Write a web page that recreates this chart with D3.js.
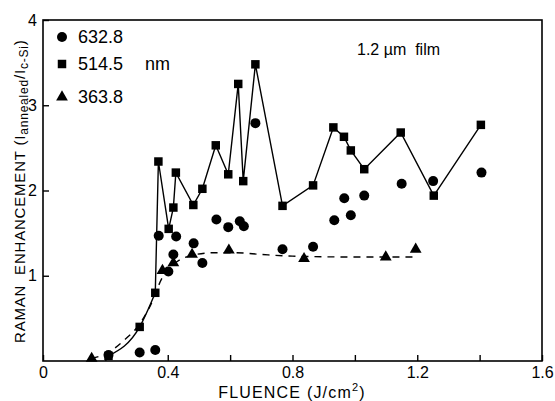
<!DOCTYPE html>
<html lang="en">
  <head>
    <meta charset="UTF-8" />
    <title>Raman enhancement vs fluence</title>
    <style>
      body { margin: 0; background: #fff; }
      svg { display: block; font-family: "Liberation Sans", Arial, sans-serif; }
      svg text { white-space: pre; }
      .axis text { font-size: 16px; fill: #000; }
      .axis line { stroke: #000; stroke-width: 1.4; }
      .axis path { display: none; }
    </style>
  </head>
  <body>
    <svg width="555" height="401"></svg>

    <script src="https://d3js.org/d3.v7.min.js"></script>
    <script>
      // 632.8 nm (circles)
      const fluence632 = [0.21, 0.31, 0.36, 0.371, 0.402, 0.418, 0.427, 0.483, 0.511, 0.556, 0.594, 0.631, 0.644, 0.681, 0.768, 0.866, 0.934, 0.966, 0.987, 1.03, 1.15, 1.251, 1.406];
      const enh632 = [0.07, 0.1, 0.13, 1.47, 1.05, 1.25, 1.46, 1.38, 1.15, 1.66, 1.57, 1.64, 1.58, 2.79, 1.31, 1.34, 1.65, 1.91, 1.71, 1.94, 2.08, 2.11, 2.21];

      // 514.5 nm (squares, solid line)
      const fluence514 = [0.21, 0.31, 0.36, 0.37, 0.403, 0.418, 0.426, 0.482, 0.511, 0.554, 0.594, 0.626, 0.642, 0.681, 0.768, 0.866, 0.931, 0.965, 0.987, 1.03, 1.147, 1.253, 1.404];
      const enh514 = [0.06, 0.4, 0.8, 2.34, 1.55, 1.8, 2.21, 1.83, 2.02, 2.53, 2.19, 3.25, 2.11, 3.48, 1.82, 2.06, 2.74, 2.63, 2.47, 2.25, 2.68, 1.94, 2.77];

      // 363.8 nm (triangles)
      const fluence364 = [0.156, 0.383, 0.418, 0.478, 0.596, 0.837, 1.099, 1.195];
      const enh364 = [0.03, 1.06, 1.15, 1.25, 1.3, 1.2, 1.22, 1.31];

      // dashed guide curve through the 363.8 nm points
      const dashFluence = [0.156, 0.21, 0.256, 0.311, 0.343, 0.383, 0.418, 0.478, 0.55, 0.62, 0.7, 0.8, 1.0, 1.19];
      const dashEnh = [0.03, 0.1, 0.23, 0.44, 0.64, 0.98, 1.13, 1.24, 1.27, 1.27, 1.25, 1.23, 1.22, 1.22];

      const xTicks = [0, 0.2, 0.4, 0.6, 0.8, 1.0, 1.2, 1.4, 1.6];
      const xLabels = [0, 0.4, 0.8, 1.2, 1.6];
      const yTicks = [1, 2, 3, 4];

      const svg = d3.select("svg");

      const x = d3.scaleLinear().domain([0, 1.6]).range([43, 542]);
      const y = d3.scaleLinear().domain([0, 4]).range([361, 20]);

      // frame
      svg.append("rect")
        .attr("x", x(0)).attr("y", y(4))
        .attr("width", x(1.6) - x(0)).attr("height", y(0) - y(4))
        .attr("fill", "none").attr("stroke", "#000").attr("stroke-width", 1.6);

      // x axis: inward ticks every 0.2, labels every 0.4
      svg.append("g").attr("class", "axis")
        .attr("transform", `translate(0,${y(0)})`)
        .call(d3.axisBottom(x).tickValues(xTicks).tickSize(-6).tickSizeOuter(0)
          .tickPadding(6)
          .tickFormat((d) => (xLabels.some((v) => Math.abs(v - d) < 1e-9) ? d3.format(".1~f")(d) : "")));

      // y axis
      svg.append("g").attr("class", "axis")
        .attr("transform", `translate(${x(0)},0)`)
        .call(d3.axisLeft(y).tickValues(yTicks).tickSize(-6).tickSizeOuter(0).tickPadding(6)
          .tickFormat(d3.format("d")));

      // axis titles
      const xt = svg.append("text")
        .attr("x", 292).attr("y", 398)
        .attr("text-anchor", "middle")
        .attr("font-size", 16).attr("letter-spacing", 1.2)
        .text("FLUENCE (J/cm");
      xt.append("tspan").attr("font-size", 11).attr("dy", -7).text("2");
      xt.append("tspan").attr("dy", 7).text(")");

      const yt = svg.append("text")
        .attr("transform", "translate(25,343) rotate(-90)")
        .attr("font-size", 15).attr("letter-spacing", 0.8)
        .text("RAMAN  ENHANCEMENT (I");
      yt.append("tspan").attr("font-size", 12).attr("dy", 3).text("annealed");
      yt.append("tspan").attr("dy", -3).text("/I");
      yt.append("tspan").attr("font-size", 12).attr("dy", 3).text("c-Si");
      yt.append("tspan").attr("dy", -3).text(")");

      // lines
      const pts514 = fluence514.map((f, i) => [f, enh514[i]]);
      const line = d3.line().x((d) => x(d[0])).y((d) => y(d[1]));

      svg.append("path")
        .attr("d", line.curve(d3.curveMonotoneX)(pts514.slice(0, 3)))
        .attr("fill", "none").attr("stroke", "#000").attr("stroke-width", 1.4);
      svg.append("path")
        .attr("d", line.curve(d3.curveLinear)(pts514.slice(2)))
        .attr("fill", "none").attr("stroke", "#000").attr("stroke-width", 1.4);

      svg.append("path")
        .attr("d", line.curve(d3.curveMonotoneX)(dashFluence.map((f, i) => [f, dashEnh[i]])))
        .attr("fill", "none").attr("stroke", "#000").attr("stroke-width", 1.4)
        .attr("stroke-dasharray", "7,6");

      // markers
      const sq = d3.symbol().type(d3.symbolSquare).size(72);
      const tri = d3.symbol().type(d3.symbolTriangle).size(60);

      svg.append("g").selectAll("circle")
        .data(fluence632.map((f, i) => [f, enh632[i]]))
        .join("circle")
        .attr("cx", (d) => x(d[0])).attr("cy", (d) => y(d[1]))
        .attr("r", 5);

      svg.append("g").selectAll("path")
        .data(pts514)
        .join("path")
        .attr("d", sq)
        .attr("transform", (d) => `translate(${x(d[0])},${y(d[1])})`);

      svg.append("g").selectAll("path")
        .data(fluence364.map((f, i) => [f, enh364[i]]))
        .join("path")
        .attr("d", tri)
        .attr("transform", (d) => `translate(${x(d[0])},${y(d[1])})`);

      // legend
      const legend = svg.append("g").attr("font-size", 18);
      legend.append("circle").attr("cx", 62).attr("cy", 37).attr("r", 5);
      legend.append("text").attr("x", 78).attr("y", 43).text("632.8");
      legend.append("path").attr("d", sq).attr("transform", "translate(62,64)");
      legend.append("text").attr("x", 78).attr("y", 70).text("514.5");
      legend.append("text").attr("x", 145).attr("y", 70).text("nm");
      legend.append("path").attr("d", tri).attr("transform", "translate(62,97)");
      legend.append("text").attr("x", 78).attr("y", 103).text("363.8");

      svg.append("text")
        .attr("x", 357).attr("y", 55)
        .attr("font-size", 16)
        .text("1.2 \u00b5m  film");
    </script>
  </body>
</html>
